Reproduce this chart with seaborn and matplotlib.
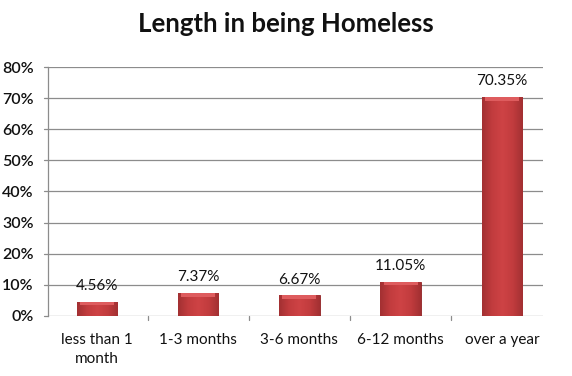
import matplotlib
matplotlib.use("Agg")
import matplotlib.pyplot as plt
import seaborn as sns
import numpy as np
import pandas as pd
from matplotlib.colors import LinearSegmentedColormap

categories = ["less than 1\nmonth", "1-3 months", "3-6 months", "6-12 months", "over a year"]
values = [4.56, 7.37, 6.67, 11.05, 70.35]
value_labels = ["4.56%", "7.37%", "6.67%", "11.05%", "70.35%"]
yticks = [0, 10, 20, 30, 40, 50, 60, 70, 80]
ytick_labels = ["0%", "10%", "20%", "30%", "40%", "50%", "60%", "70%", "80%"]
title = "Length in being Homeless"

sns.set_theme(style="white")
plt.rcParams['font.family'] = ['Lato', 'DejaVu Sans']

df = pd.DataFrame({"cat": categories, "val": values})

fig = plt.figure(figsize=(5.72, 3.76), dpi=100)
ax = fig.add_axes([0.0834, 0.1596, 0.949 - 0.0834, 0.8218 - 0.1596])

sns.barplot(data=df, x="cat", y="val", color="#C0393B", width=0.4, ax=ax,
            saturation=1, edgecolor="#8E2224", linewidth=0.6, zorder=3)

ax.set_ylim(0, 80)
ax.set_xlim(-0.487, 4.405)
ax.set_yticks(yticks)
ax.set_yticklabels(ytick_labels, fontsize=11.5, color="#111111", fontweight="semibold")
ax.set_xticks(range(len(categories)))
ax.set_xticklabels(categories, fontsize=11, color="#111111", linespacing=1.5)
ax.set_xlabel("")
ax.set_ylabel("")
ax.tick_params(axis="x", length=0, pad=12)
ax.tick_params(axis="y", length=0, pad=10)

for y in yticks:
    ax.axhline(y, color="#8C8C8C", linewidth=0.9, zorder=1)
for s in ["top", "right", "bottom"]:
    ax.spines[s].set_visible(False)
ax.spines["left"].set_color("#8C8C8C")
ax.spines["left"].set_linewidth(0.9)

for b in [0.5, 1.5, 2.5, 3.5]:
    ax.plot([b, b], [0, -1.2], color="#8C8C8C", linewidth=0.9, clip_on=False)
for y in yticks:
    ax.plot([-0.487, -0.487 - 0.04], [y, y], color="#8C8C8C", linewidth=0.9, clip_on=False)

cmap = LinearSegmentedColormap.from_list("bev", ["#A23032", "#C23C3E", "#CE4345", "#C23C3E", "#A23032"])
grad = np.linspace(0, 1, 256).reshape(1, -1)
for p in ax.patches:
    x0, y0 = p.get_x(), p.get_y()
    w, h = p.get_width(), p.get_height()
    im = ax.imshow(grad, cmap=cmap, aspect="auto", extent=[x0, x0 + w, y0, y0 + h],
                   zorder=3.5, interpolation="bicubic")
    im.set_clip_path(p)
    bev = min(1.2, h * 0.2)
    ax.fill_between([x0 + w * 0.08, x0 + w * 0.92], y0 + h - bev, y0 + h,
                    color="#DE5C5E", zorder=3.6, linewidth=0)

for i, (v, lab) in enumerate(zip(values, value_labels)):
    ax.text(i, v + 2.8, lab, ha="center", va="bottom", fontsize=11, color="#111111", zorder=5)

fig.text(0.5, 0.935, title, ha="center", va="center", fontsize=18.5, fontweight="bold", color="#111111")

fig.savefig("out.png", dpi=100, facecolor="white")
